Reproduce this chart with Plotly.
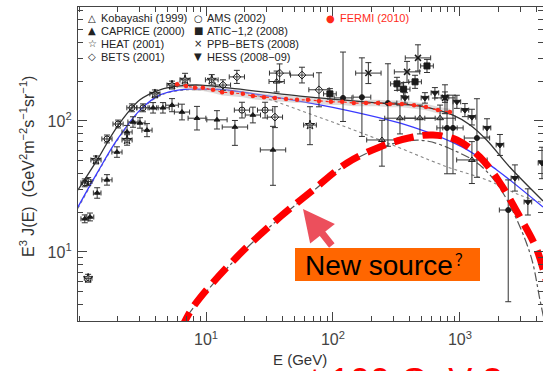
import numpy as np
import plotly.graph_objects as go

# ---------------- data (E in GeV, E^3 J(E) in GeV^2 m^-2 s^-1 sr^-1) ----------------
KOB_E = [36, 243, 337, 484, 697, 1242]
KOB_J = [200, 71.6, 105, 105, 105, 50.4]
KOB_XW = [0.06, 0.12, 0.12, 0.12, 0.12, 0.12]
KOB_DLO = [0.08, 0.2, 0.12, 0.12, 0.12, 0.18]
KOB_DHI = [0.08, 0.15, 0.1, 0.1, 0.1, 0.14]

CAP_E = [1.11, 1.22, 1.39, 1.66, 1.99, 2.39, 2.66, 3.02, 3.43, 3.83, 4.58, 5.40, 6.47, 8.49, 12.2, 16.9, 33.7, 23.4]
CAP_J = [17.9, 18.5, 28.2, 35.5, 57.9, 82.4, 98.2, 96.6, 85.1, 126, 126, 132, 117, 105, 102, 89.9, 60.1, 111]
CAP_XW = [0.03, 0.03, 0.03, 0.04, 0.04, 0.04, 0.04, 0.04, 0.04, 0.04, 0.05, 0.05, 0.06, 0.07, 0.08, 0.1, 0.1, 0.06]
CAP_DLO = [0.03, 0.03, 0.04, 0.04, 0.04, 0.05, 0.04, 0.04, 0.05, 0.04, 0.04, 0.05, 0.06, 0.09, 0.07, 0.14, 0.27, 0.06]
CAP_DHI = [0.03, 0.03, 0.04, 0.04, 0.04, 0.05, 0.04, 0.04, 0.05, 0.04, 0.04, 0.05, 0.06, 0.09, 0.07, 0.05, 0.18, 0.06]

HEAT_E = [1.18, 1.36, 2.39, 3.96, 5.40, 6.84, 11.1, 65.9]
HEAT_J = [6.3, 50.4, 71.6, 161, 188, 206, 206, 93.1]
HEAT_XW = [0.03, 0.04, 0.04, 0.04, 0.04, 0.04, 0.05, 0.05]
HEAT_DLO = [0.03, 0.03, 0.04, 0.03, 0.03, 0.04, 0.04, 0.15]
HEAT_DHI = [0.03, 0.03, 0.04, 0.03, 0.03, 0.05, 0.04, 0.14]

BETS_E = [13.6, 17.5, 38.0, 57.0, 77.6, 34.9]
BETS_J = [188, 217, 232, 224, 173, 107]
BETS_XW = [0.06, 0.06, 0.08, 0.09, 0.08, 0.06]
BETS_DLO = [0.04, 0.05, 0.07, 0.06, 0.13, 0.08]
BETS_DHI = [0.04, 0.05, 0.07, 0.06, 0.13, 0.08]

AMS_E = [1.11, 1.18, 1.66, 2.03, 2.61, 3.19, 19.2, 29.2]
AMS_J = [33.7, 34.5, 72.9, 94.8, 126, 126, 121, 121]
AMS_XW = [0.03, 0.03, 0.04, 0.04, 0.04, 0.05, 0.06, 0.06]
AMS_DLO = [0.03, 0.03, 0.03, 0.03, 0.03, 0.03, 0.06, 0.06]
AMS_DHI = [0.03, 0.03, 0.03, 0.03, 0.03, 0.03, 0.06, 0.06]

ATIC_E = [94.6, 319, 360, 443, 550]
ATIC_J = [161, 192, 175, 199, 263]
ATIC_XW = [0.05, 0.05, 0.05, 0.05, 0.05]
ATIC_DLO = [0.04, 0.05, 0.05, 0.05, 0.05]
ATIC_DHI = [0.04, 0.05, 0.05, 0.05, 0.05]

PPB_E = [190, 383, 467, 762]
PPB_J = [232, 237, 303, 150]
PPB_XW = [0.1, 0.1, 0.1, 0.08]
PPB_DLO = [0.08, 0.08, 0.1, 0.12]
PPB_DHI = [0.08, 0.08, 0.1, 0.1]

HESS_E = [369, 530, 635, 762, 946, 1094, 1242, 1633, 2065, 2710, 3428, 4426]
HESS_J = [150, 150, 164, 152, 140, 121, 107, 88.5, 65.6, 36.7, 24.1, 47.8]
HESS_XW = [0.03] * 12
HESS_DLO = [0.04, 0.04, 0.04, 0.04, 0.05, 0.05, 0.06, 0.07, 0.08, 0.1, 0.1, 0.12]
HESS_DHI = [0.04, 0.04, 0.04, 0.04, 0.05, 0.05, 0.06, 0.07, 0.08, 0.1, 0.1, 0.12]

OTH_E = [120, 169, 271, 791, 881, 1361, 2400]
OTH_J = [150, 152, 137, 88.5, 88.5, 74.1, 20.9]
OTH_XW = [0.07, 0.07, 0.07, 0.08, 0.08, 0.1, 0.07]
OTH_DLO = [0.18, 0.3, 0.33, 0.35, 0.35, 0.3, 0.7]
OTH_DHI = [0.35, 0.3, 0.3, 0.25, 0.25, 0.3, 0.23]

FERMI_E = [5.92, 6.97, 8.18, 9.46, 11.35, 13.4, 16.0, 19.5, 23.4, 28.6, 34.9, 42.7, 52.1,
           63.5, 77.6, 96.4, 118, 146, 182, 226, 281, 349, 435, 540, 671, 834]
FERMI_J = [191, 185, 179, 179, 173, 166, 164, 161, 155, 152, 150, 147, 145,
           145, 142, 140, 140, 137, 137, 137, 135, 135, 132, 128, 121, 117]

# model curves
TOT_E = [0.98, 1.39, 1.99, 3.02, 4.34, 6.24, 8.97, 15.5, 55, 234, 484, 881, 1202, 1622, 2455, 4508]
TOT_J = [29.7, 50.4, 89.9, 145, 173, 185, 188, 178, 155, 137, 130, 111, 93.3, 71.6, 44.7, 24.5]

BKG_E = [0.98, 1.39, 1.99, 3.02, 4.34, 6.24, 8.97, 12.9, 38, 126, 427, 1047, 1950, 4508]
BKG_J = [22.0, 40.1, 71.6, 121, 158, 173, 175, 174, 150, 121, 89.9, 63.1, 42.3, 22.0]

DOT_E = [0.98, 1.39, 1.99, 3.02, 4.34, 6.24, 8.97, 12.9, 22.4, 69.7, 234, 794, 1622, 2951, 4508]
DOT_J = [21.5, 39.5, 70.5, 119, 156, 171, 173, 172, 161, 111, 71.6, 44.6, 35.5, 27.2, 23.7]

SRC_E = [6.03, 7.91, 17.5, 38.3, 69.7, 129, 234, 398, 562, 881, 1435, 2183, 3556, 4266, 5012]
SRC_J = [2.51, 3.72, 9.02, 18.2, 29.2, 47.0, 62.4, 70.8, 70.0, 60.1, 46.1, 28.2, 9.82, 4.31, 2.0]

NEW_E = [6.31, 7.91, 17.5, 38.3, 69.7, 129, 234, 427, 612, 946, 1435, 2065, 2965, 4036, 5012]
NEW_J = [2.51, 3.80, 9.16, 18.5, 29.7, 47.8, 63.4, 75.5, 78.2, 71.6, 53.1, 33.7, 18.5, 10.4, 5.0]

XTICKS = [10, 100, 1000]
XTICKTEXT = ["10<sup>1</sup>", "10<sup>2</sup>", "10<sup>3</sup>"]
YTICKS = [10, 100]
YTICKTEXT = ["10<sup>1</sup>", "10<sup>2</sup>"]

LEGEND = [
    ("△", "Kobayashi (1999)", 0, 0, "#222"),
    ("▲", "CAPRICE (2000)", 0, 1, "#222"),
    ("☆", "HEAT (2001)", 0, 2, "#222"),
    ("◇", "BETS (2001)", 0, 3, "#222"),
    ("○", "AMS (2002)", 1, 0, "#222"),
    ("■", "ATIC−1,2 (2008)", 1, 1, "#222"),
    ("×", "PPB−BETS (2008)", 1, 2, "#222"),
    ("▼", "HESS (2008−09)", 1, 3, "#222"),
    ("●", "FERMI (2010)", 2, 0, "#ff2a1a"),
]

# ---------------- figure ----------------
W, H = 543, 371
L, R, T, B = 78, 0, 7, 50
PW, PH = W - L - R, H - T - B


def px(x):
    return (x - L) / PW


def py(y):
    return (H - B - y) / PH


fig = go.Figure()


def curve(E, J, color, width, dash="solid"):
    fig.add_trace(go.Scatter(x=E, y=J, mode="lines", line=dict(color=color, width=width, dash=dash, shape="spline"),
                             hoverinfo="skip", showlegend=False))


def points(E, J, XW, DLO, DHI, symbol, size=6, color="#1a1a1a", lw=1.0):
    E = np.array(E, float)
    J = np.array(J, float)
    xw = np.array(XW, float)
    fig.add_trace(go.Scatter(
        x=E, y=J, mode="markers",
        marker=dict(symbol=symbol, size=size, color=color, line=dict(color=color, width=lw)),
        error_x=dict(type="data", symmetric=False, array=E * (10 ** xw - 1), arrayminus=E * (1 - 10 ** -xw),
                     color="#333", thickness=1, width=2.5),
        error_y=dict(type="data", symmetric=False, array=J * (10 ** np.array(DHI) - 1),
                     arrayminus=J * (1 - 10 ** -np.array(DLO)), color="#333", thickness=1, width=3),
        showlegend=False, hoverinfo="skip"))


curve(DOT_E, DOT_J, "#888", 1.1, "dot")
curve(BKG_E, BKG_J, "#3a3aff", 1.3)
curve(SRC_E, SRC_J, "#555", 1.2, "dashdot")

# FERMI systematic band
fe = np.array(FERMI_E)
fj = np.array(FERMI_J)
fig.add_trace(go.Scatter(x=np.concatenate([fe, fe[::-1]]), y=np.concatenate([fj * 10 ** 0.025, (fj / 10 ** 0.025)[::-1]]),
                         fill="toself", fillcolor="rgba(185,175,175,0.45)", line=dict(width=0), mode="lines",
                         hoverinfo="skip", showlegend=False))

curve(TOT_E, TOT_J, "#333", 1.3)

points(OTH_E, OTH_J, OTH_XW, OTH_DLO, OTH_DHI, "circle", 5)
points(KOB_E, KOB_J, KOB_XW, KOB_DLO, KOB_DHI, "triangle-up-open", 6)
points(CAP_E, CAP_J, CAP_XW, CAP_DLO, CAP_DHI, "triangle-up", 5)
points(HEAT_E, HEAT_J, HEAT_XW, HEAT_DLO, HEAT_DHI, "star-open", 7)
points(BETS_E, BETS_J, BETS_XW, BETS_DLO, BETS_DHI, "diamond-open", 6)
points(AMS_E, AMS_J, AMS_XW, AMS_DLO, AMS_DHI, "circle-open", 6)
points(ATIC_E, ATIC_J, ATIC_XW, ATIC_DLO, ATIC_DHI, "square", 6)
points(PPB_E, PPB_J, PPB_XW, PPB_DLO, PPB_DHI, "x-thin-open", 6, lw=1.5)
points(HESS_E, HESS_J, HESS_XW, HESS_DLO, HESS_DHI, "triangle-down", 6)

fig.add_trace(go.Scatter(x=FERMI_E, y=FERMI_J, mode="lines+markers",
                         line=dict(color="#ff2a1a", width=1.2, dash="dot"),
                         marker=dict(color="#ff2a1a", size=4.5), hoverinfo="skip", showlegend=False))

# highlighted "new source" curve
fig.add_trace(go.Scatter(x=NEW_E, y=NEW_J, mode="lines",
                         line=dict(color="#ff0000", width=7, dash="20px,9px", shape="spline"),
                         hoverinfo="skip", showlegend=False))

axis_common = dict(type="log", showline=True, linecolor="#444", linewidth=1.3, mirror="allticks",
                   ticks="inside", ticklen=9, tickwidth=1, tickcolor="#444", showgrid=False, zeroline=False,
                   tickfont=dict(family="Liberation Sans, Arial", size=16, color="#444"),
                   minor=dict(ticks="inside", ticklen=5, tickwidth=1, tickcolor="#444", dtick="D1", showgrid=False))

fig.update_xaxes(range=[-0.008, 3.654], tickvals=XTICKS, ticktext=XTICKTEXT, ticklabelstandoff=4, **axis_common)
fig.update_yaxes(range=[0.473, 2.870], tickvals=YTICKS, ticktext=YTICKTEXT, ticklabelstandoff=2, **axis_common)

ann = []
# axis titles
ann.append(dict(x=px(300), y=py(359), xref="paper", yref="paper", text="E (GeV)", showarrow=False,
                xanchor="center", yanchor="middle",
                font=dict(family="Liberation Sans, Arial", size=15, color="#333")))
ann.append(dict(x=px(27), y=py(167), xref="paper", yref="paper", textangle=-90,
                xanchor="center", yanchor="middle",
                text="E<sup>3</sup> J(E)  (GeV<sup>2</sup>m<sup>−2</sup>s<sup>−1</sup>sr<sup>−1</sup>)",
                showarrow=False, font=dict(family="Liberation Sans, Arial", size=16, color="#333")))
# legend
col_sym = [92, 198, 330]
col_txt = [99, 205, 338]
row_y = [18, 31, 44, 57]
for sym, name, c, r, colr in LEGEND:
    ann.append(dict(x=px(col_sym[c]), y=py(row_y[r]), xref="paper", yref="paper", text=sym, showarrow=False,
                    xanchor="center", yanchor="middle", font=dict(family="DejaVu Sans", size=10, color=colr)))
    ann.append(dict(x=px(col_txt[c]), y=py(row_y[r]), xref="paper", yref="paper", text=name, showarrow=False,
                    xanchor="left", yanchor="middle", font=dict(family="Liberation Sans, Arial", size=11, color=colr)))
# New source label
ann.append(dict(x=px(303), y=py(265), xref="paper", yref="paper", text="New source", showarrow=False,
                xanchor="left", yanchor="middle", font=dict(family="Liberation Sans, Arial", size=28, color="#000")))
ann.append(dict(x=px(453), y=py(258), xref="paper", yref="paper", text="？", showarrow=False,
                xanchor="left", yanchor="middle", font=dict(family="Noto Sans CJK SC", size=15, color="#000")))
# arrow
ann.append(dict(x=px(303), y=py(209), xref="paper", yref="paper", text="", showarrow=True,
                ax=30, ay=38, arrowhead=2, arrowsize=0.9, arrowwidth=7, arrowcolor="#ec4f5c", standoff=0))
# bottom red text (mostly cut off)
ann.append(dict(x=px(166), y=py(359), xref="paper", yref="paper", text="excess at 100 GeV ?", showarrow=False,
                xanchor="left", yanchor="top", font=dict(family="Liberation Sans, Arial", size=36, color="#ff0000")))

fig.update_layout(
    width=W, height=H, margin=dict(l=L, r=R, t=T, b=B),
    paper_bgcolor="white", plot_bgcolor="white", showlegend=False,
    annotations=ann,
    shapes=[dict(type="rect", xref="paper", yref="paper", x0=px(295), x1=px(480), y0=py(281), y1=py(248),
                 fillcolor="#ff6600", line=dict(width=0), layer="above")],
)

fig.write_html("out.html")
